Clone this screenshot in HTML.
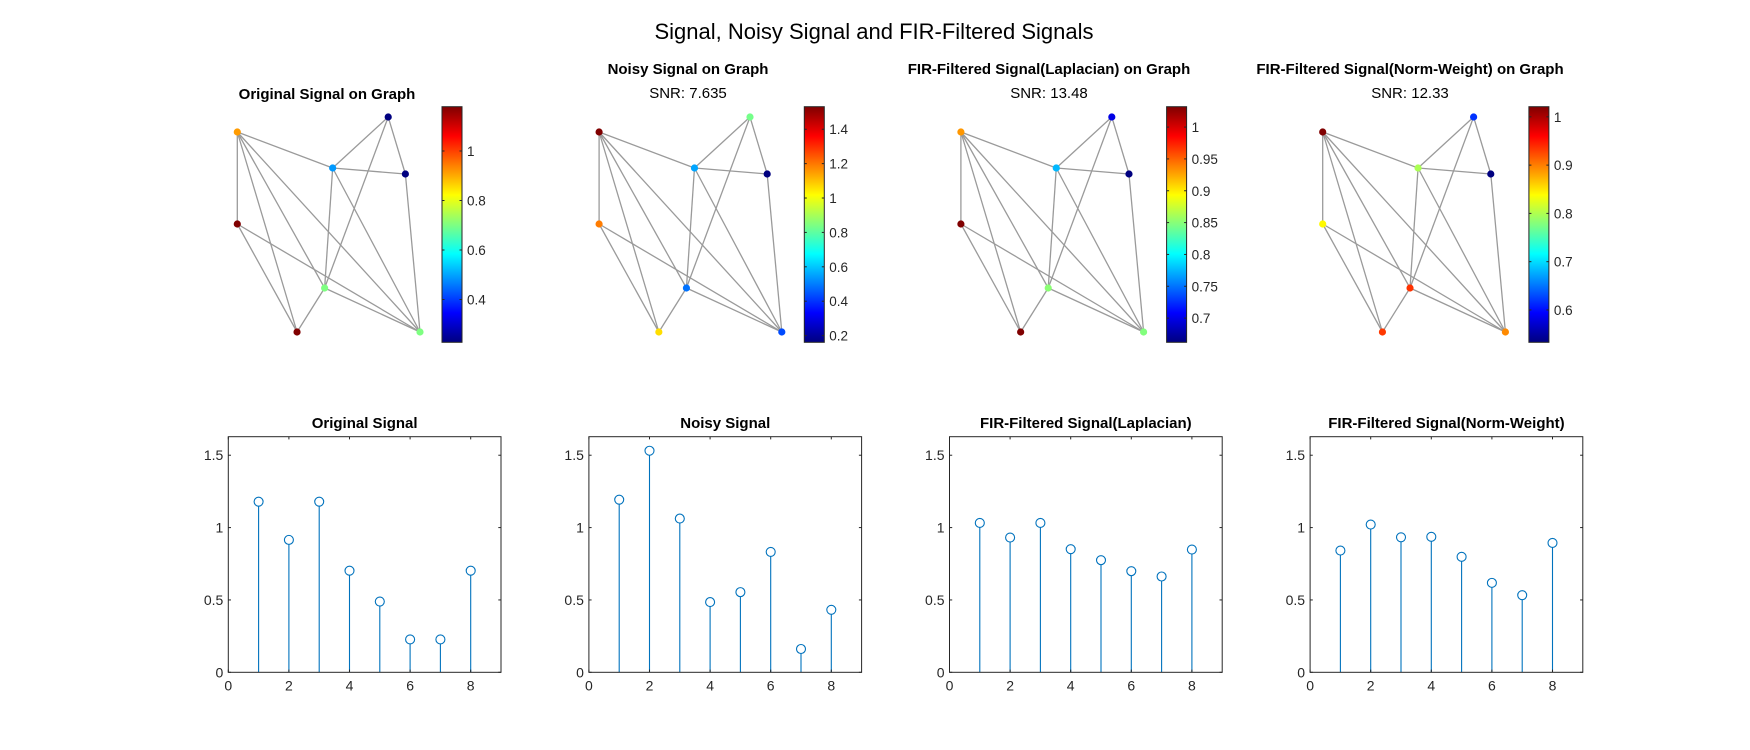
<!DOCTYPE html>
<html><head><meta charset="utf-8"><style>
html,body{margin:0;padding:0;background:#fff;}
svg{display:block;font-family:"Liberation Sans",Arial,sans-serif;}
</style></head><body>
<svg id="fig" width="1750" height="750" viewBox="0 0 1750 750" xmlns="http://www.w3.org/2000/svg">
<rect width="1750" height="750" fill="#fff"/>
<text x="874" y="39" text-anchor="middle" font-size="22" fill="#000">Signal, Noisy Signal and FIR-Filtered Signals</text>
</svg>
<script>
// ---- data ----
const categories = [1,2,3,4,5,6,7,8];
const originalSignal = [1.179,0.915,1.179,0.702,0.489,0.227,0.227,0.702];
const noisySignal = [1.193,1.531,1.062,0.485,0.554,0.832,0.161,0.432];
const lapSignal = [1.032,0.931,1.032,0.851,0.775,0.699,0.662,0.848];
const nwSignal = [0.841,1.021,0.933,0.936,0.798,0.618,0.533,0.894];
const stemTitles = ["Original Signal","Noisy Signal","FIR-Filtered Signal(Laplacian)","FIR-Filtered Signal(Norm-Weight)"];
const graphTitles = ["Original Signal on Graph","Noisy Signal on Graph","FIR-Filtered Signal(Laplacian) on Graph","FIR-Filtered Signal(Norm-Weight) on Graph"];
const snrLabels = [null,"SNR: 7.635","SNR: 13.48","SNR: 12.33"];
const xTicks = [0,2,4,6,8];
const yTicks = [0,0.5,1,1.5];
const yTickLabels = ["0","0.5","1","1.5"];
const cbTicks0 = [0.4,0.6,0.8,1];
const cbTicks1 = [0.2,0.4,0.6,0.8,1,1.2,1.4];
const cbTicks2 = [0.7,0.75,0.8,0.85,0.9,0.95,1];
const cbTicks3 = [0.6,0.7,0.8,0.9,1];
// graph layout (abstract layout units), node order = signal index
const layoutX = [0,0,0.327,0.478,0.522,0.826,0.92,1];
const layoutY = [0.46,0,1,0.78,0.18,-0.075,0.21,1];
const edgeFrom = [2,2,2,2,2,1,1,3,4,4,4,5,5,5,6,7];
const edgeTo   = [1,5,3,4,8,3,8,4,8,5,6,6,7,8,7,8];

const signals=[originalSignal,noisySignal,lapSignal,nwSignal];
const cbTicks=[cbTicks0,cbTicks1,cbTicks2,cbTicks3];
const NS="http://www.w3.org/2000/svg";
const svg=document.getElementById('fig');
function mk(tag,attrs,parent){const e=document.createElementNS(NS,tag);for(const k in attrs)e.setAttribute(k,attrs[k]);(parent||svg).appendChild(e);return e;}
function jet(t){t=Math.max(0,Math.min(1,t));const c=v=>Math.round(255*Math.max(0,Math.min(1,v)));
 return `rgb(${c(1.5-Math.abs(4*t-3))},${c(1.5-Math.abs(4*t-2))},${c(1.5-Math.abs(4*t-1))})`;}
function fmt(v){return String(+v.toFixed(2));}

const defs=mk('defs',{});
for(let p=0;p<4;p++){
  const sig=signals[p];
  // ---------- stem plot ----------
  const L=228.3+p*360.6, R=L+272.7, T=436.7, B=672.3, YMAX=1.628, XMAX=9;
  const sx=v=>L+(v/XMAX)*(R-L), sy=v=>B-(v/YMAX)*(B-T);
  const g=mk('g',{});
  
  
  const tt=mk('text',{x:(L+R)/2,y:428,'text-anchor':'middle','font-size':15,'font-weight':'bold',fill:'#000'},g);
  tt.textContent=stemTitles[p];
  
  
  categories.forEach((c,i)=>{
    const ln=mk('line',{x1:sx(c),x2:sx(c),y1:sy(0),y2:sy(sig[i])+4.5,stroke:'#0072BD','stroke-width':1.1},g);
    
    
    const ci=mk('circle',{cx:sx(c),cy:sy(sig[i]),r:4.5,fill:'none',stroke:'#0072BD','stroke-width':1.1},g);
    
    
  });
  const box=mk('rect',{x:L,y:T,width:R-L,height:B-T,fill:'none',stroke:'#262626','stroke-width':1},g);
  
  
  xTicks.forEach(v=>{
    mk('line',{x1:sx(v),x2:sx(v),y1:B,y2:B-2.7,stroke:'#262626'},g);
    mk('line',{x1:sx(v),x2:sx(v),y1:T,y2:T+2.7,stroke:'#262626'},g);
    const t=mk('text',{x:sx(v),y:B+18,'text-anchor':'middle','font-size':14,fill:'#262626'},g);
    t.textContent=v;
    
    
  });
  yTicks.forEach((v,i)=>{
    mk('line',{x1:L,x2:L+2.7,y1:sy(v),y2:sy(v),stroke:'#262626'},g);
    mk('line',{x1:R,x2:R-2.7,y1:sy(v),y2:sy(v),stroke:'#262626'},g);
    const t=mk('text',{x:L-5,y:sy(v)+5,'text-anchor':'end','font-size':14,fill:'#262626'},g);
    t.textContent=yTickLabels[i];
    
    
  });

  // ---------- graph plot ----------
  const gx0=237.3+p*361.8, gy0=132;
  const gxs=u=>gx0+u*182.7, gys=v=>gy0+v*200;
  const cmin=Math.min(...sig), cmax=Math.max(...sig);
  const gg=mk('g',{});
  
  
  const cx=327+p*361;
  const gt=mk('text',{x:cx,y:p===0?99:74,'text-anchor':'middle','font-size':15,'font-weight':'bold',fill:'#000'},gg);
  gt.textContent=graphTitles[p];
  
  
  if(snrLabels[p]){
    const st=mk('text',{x:cx,y:98,'text-anchor':'middle','font-size':15,fill:'#000'},gg);
    st.textContent=snrLabels[p];
    
    
  }
  edgeFrom.forEach((a,k)=>{
    const b=edgeTo[k];
    const e=mk('line',{x1:gxs(layoutX[a-1]),y1:gys(layoutY[a-1]),x2:gxs(layoutX[b-1]),y2:gys(layoutY[b-1]),stroke:'#9a9a9a','stroke-width':1.3},gg);
    
    
  });
  sig.forEach((v,i)=>{
    const n=mk('circle',{cx:gxs(layoutX[i]),cy:gys(layoutY[i]),r:3.6,fill:jet((v-cmin)/(cmax-cmin))},gg);
    
    
  });
  // colorbar
  const cbL=442+p*362.3, cbR=cbL+20, cbT=106.7, cbB=342.3;
  const grad=mk('linearGradient',{id:'cb'+p,x1:0,y1:1,x2:0,y2:0},defs);
  for(let s=0;s<=32;s++)mk('stop',{offset:s/32,'stop-color':jet(s/32)},grad);
  const cb=mk('rect',{x:cbL,y:cbT,width:cbR-cbL,height:cbB-cbT,fill:`url(#cb${p})`,stroke:'#262626','stroke-width':1},gg);
  
  
  const cy=v=>cbB-(v-cmin)/(cmax-cmin)*(cbB-cbT);
  cbTicks[p].forEach(v=>{
    mk('line',{x1:cbR,x2:cbR-2.5,y1:cy(v),y2:cy(v),stroke:'#262626'},gg);
    mk('line',{x1:cbL,x2:cbL+2.5,y1:cy(v),y2:cy(v),stroke:'#262626'},gg);
    const t=mk('text',{x:cbR+5,y:cy(v)+5,'font-size':13.5,fill:'#262626'},gg);
    t.textContent=fmt(v);
    
    
  });
}
</script>
</body></html>
